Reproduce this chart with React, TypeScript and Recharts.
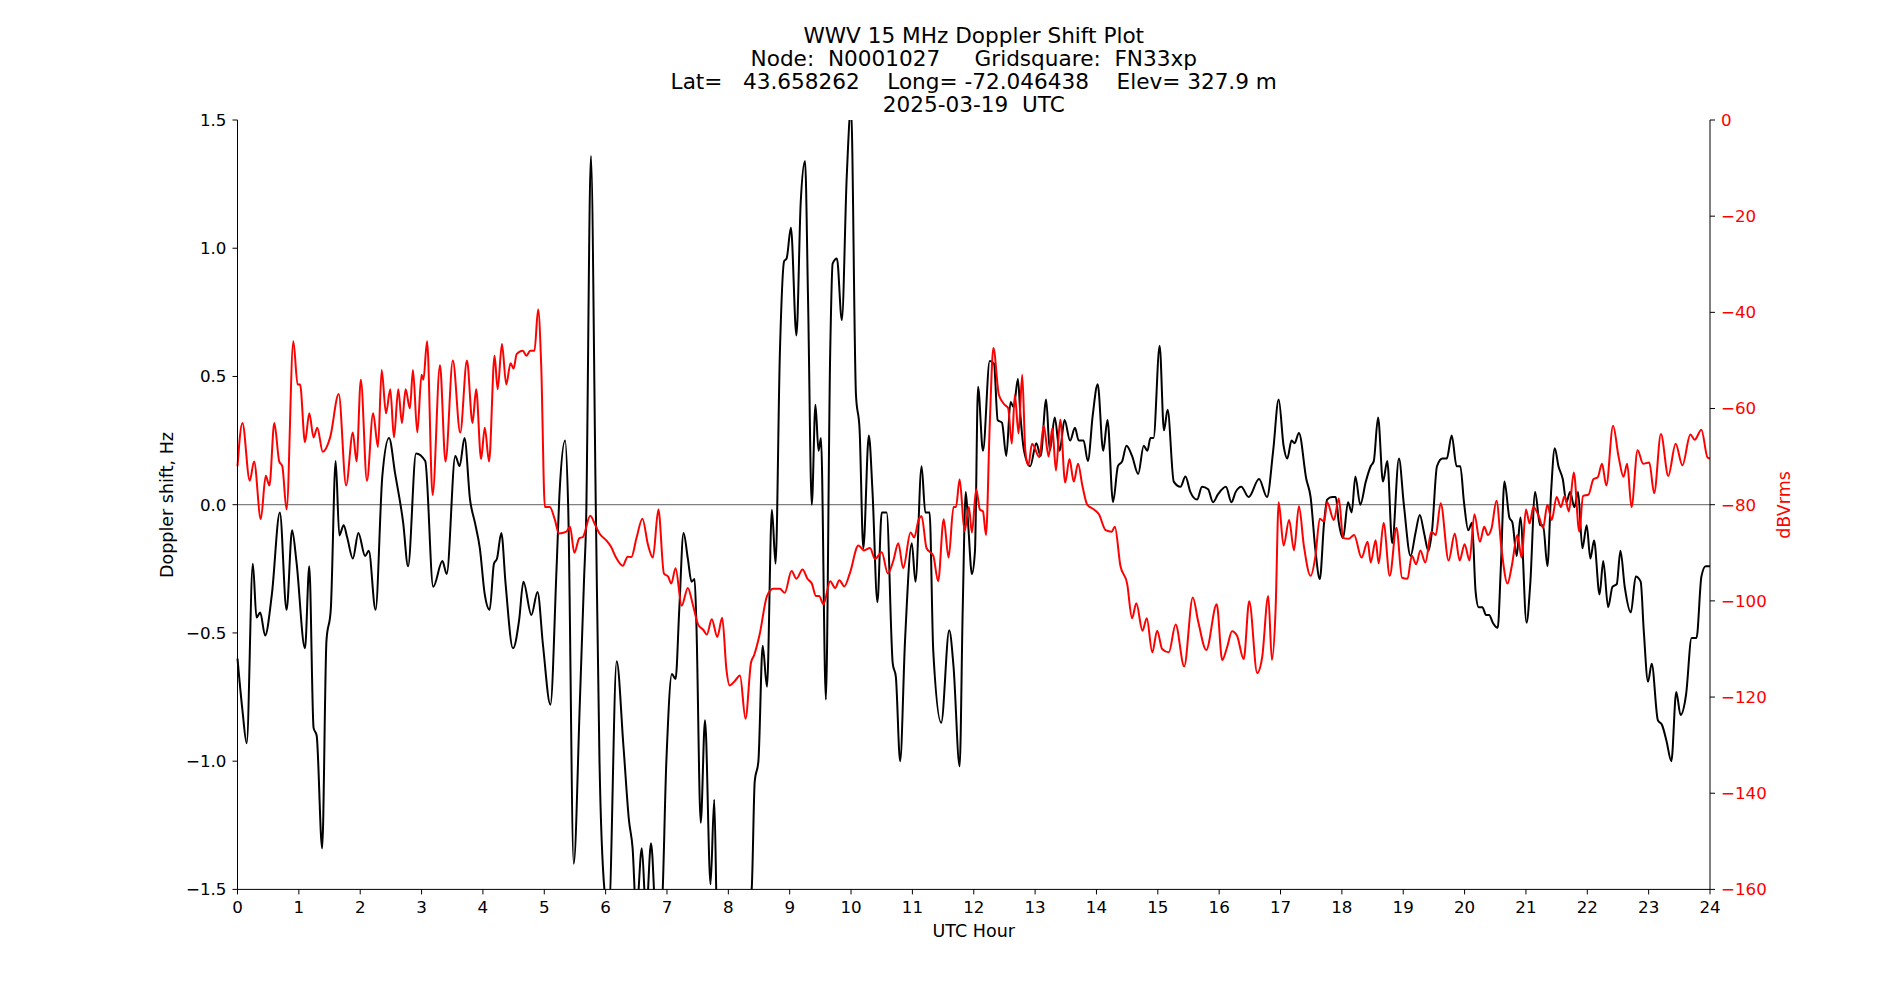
import { LineChart, Line, XAxis, YAxis, ReferenceLine } from 'recharts';

// Doppler shift (Hz), black trace
const dopplerHours = [
  0.0, 0.08, 0.15, 0.25, 0.31, 0.37, 0.45, 0.56, 0.69, 0.8, 0.89, 0.96, 1.1, 1.17, 1.24, 1.29, 1.38, 1.45, 1.52, 1.6,
  1.66, 1.73, 1.79, 1.88, 1.97, 2.08, 2.14, 2.25, 2.36, 2.47, 2.57, 2.7, 2.78, 2.91, 3.06, 3.19, 3.34, 3.41, 3.55, 3.62,
  3.7, 3.79, 3.87, 3.95, 4.03, 4.11, 4.18, 4.23, 4.3, 4.37, 4.49, 4.59, 4.66, 4.79, 4.89, 4.98, 5.1, 5.2, 5.25, 5.34,
  5.39, 5.48, 5.58, 5.65, 5.68, 5.76, 5.84, 5.9, 5.98, 6.05, 6.18, 6.29, 6.38, 6.44, 6.5, 6.59, 6.66, 6.74, 6.83, 6.91,
  6.99, 7.08, 7.14, 7.2, 7.27, 7.34, 7.4, 7.45, 7.48, 7.55, 7.62, 7.71, 7.77, 7.82, 7.95, 8.2, 8.38, 8.43, 8.49, 8.56,
  8.63, 8.71, 8.77, 8.84, 8.91, 8.95, 9.02, 9.11, 9.18, 9.25, 9.3, 9.36, 9.42, 9.47, 9.51, 9.59, 9.66, 9.7, 9.77, 9.85,
  9.93, 10.0, 10.08, 10.14, 10.2, 10.29, 10.35, 10.43, 10.5, 10.58, 10.68, 10.73, 10.8, 10.88, 10.99, 11.05, 11.15, 11.21, 11.28, 11.34,
  11.47, 11.6, 11.67, 11.77, 11.82, 11.87, 11.91, 11.97, 12.02, 12.07, 12.15, 12.26, 12.33, 12.39, 12.46, 12.53, 12.6, 12.65, 12.72, 12.76,
  12.82, 12.92, 13.02, 13.09, 13.18, 13.24, 13.32, 13.4, 13.48, 13.57, 13.65, 13.71, 13.79, 13.86, 13.94, 14.02, 14.11, 14.18, 14.27, 14.35,
  14.42, 14.49, 14.58, 14.68, 14.77, 14.83, 14.88, 14.93, 15.03, 15.1, 15.16, 15.26, 15.37, 15.45, 15.53, 15.64, 15.72, 15.82, 15.9, 15.98,
  16.11, 16.2, 16.27, 16.36, 16.48, 16.65, 16.78, 16.88, 16.97, 17.05, 17.11, 17.18, 17.23, 17.3, 17.42, 17.49, 17.57, 17.64, 17.71, 17.76,
  17.84, 17.9, 17.95, 18.02, 18.1, 18.16, 18.22, 18.3, 18.39, 18.47, 18.52, 18.59, 18.67, 18.74, 18.82, 18.93, 19.01, 19.12, 19.2, 19.27,
  19.34, 19.41, 19.47, 19.55, 19.64, 19.71, 19.79, 19.87, 19.93, 19.99, 20.06, 20.12, 20.18, 20.23, 20.29, 20.35, 20.4, 20.46, 20.54, 20.59,
  20.65, 20.73, 20.78, 20.85, 20.91, 21.01, 21.07, 21.15, 21.23, 21.28, 21.35, 21.41, 21.47, 21.53, 21.6, 21.66, 21.72, 21.79, 21.85, 21.92,
  21.99, 22.05, 22.11, 22.2, 22.26, 22.34, 22.41, 22.48, 22.54, 22.61, 22.71, 22.79, 22.87, 22.92, 22.99, 23.05, 23.15, 23.22, 23.29, 23.37,
  23.45, 23.52, 23.61, 23.7, 23.78, 23.86, 23.93, 24.0,
];
const dopplerHz = [
  -0.6, -0.8, -0.93, -0.23, -0.44, -0.42, -0.51, -0.35, -0.03, -0.41, -0.1, -0.22, -0.56, -0.24, -0.87, -0.9, -1.34, -0.53, -0.41, 0.17,
  -0.12, -0.08, -0.13, -0.21, -0.11, -0.2, -0.18, -0.41, 0.11, 0.26, 0.12, -0.07, -0.24, 0.2, 0.17, -0.32, -0.22, -0.27, 0.19, 0.15,
  0.26, 0.02, -0.07, -0.17, -0.35, -0.41, -0.23, -0.21, -0.11, -0.31, -0.56, -0.45, -0.3, -0.43, -0.34, -0.55, -0.78, -0.25, 0.05, 0.25,
  -0.01, -1.4, -0.77, -0.28, -0.09, 1.36, -0.01, -1.0, -1.5, -1.6, -0.61, -0.94, -1.23, -1.34, -1.6, -1.34, -1.6, -1.32, -1.65, -1.6,
  -1.0, -0.66, -0.68, -0.41, -0.11, -0.21, -0.3, -0.29, -0.47, -1.24, -0.84, -1.48, -1.15, -1.65, -1.7, -1.7, -1.5, -1.08, -1.0, -0.55,
  -0.71, -0.02, -0.23, 0.59, 0.95, 0.96, 1.08, 0.66, 1.18, 1.34, 0.79, 0.0, 0.39, 0.21, 0.26, -0.76, 0.59, 0.94, 0.96, 0.72,
  1.28, 1.55, 0.43, 0.29, -0.17, 0.27, 0.05, -0.38, -0.03, -0.03, -0.62, -0.67, -1.0, -0.53, -0.15, -0.3, 0.15, -0.03, -0.03, -0.57,
  -0.85, -0.49, -0.63, -1.02, -0.41, 0.05, -0.08, -0.27, -0.18, 0.46, 0.21, 0.56, 0.55, 0.33, 0.32, 0.19, 0.4, 0.38, 0.49, 0.35,
  0.21, 0.15, 0.24, 0.19, 0.41, 0.21, 0.34, 0.21, 0.33, 0.25, 0.3, 0.25, 0.25, 0.17, 0.35, 0.47, 0.21, 0.33, 0.01, 0.15,
  0.17, 0.23, 0.19, 0.12, 0.23, 0.21, 0.26, 0.26, 0.62, 0.29, 0.37, 0.09, 0.07, 0.11, 0.05, 0.02, 0.07, 0.06, 0.01, 0.04,
  0.07, 0.01, 0.05, 0.07, 0.03, 0.1, 0.03, 0.21, 0.41, 0.23, 0.18, 0.25, 0.24, 0.28, 0.1, 0.03, -0.18, -0.29, -0.07, 0.02,
  0.03, 0.03, -0.07, -0.13, 0.01, -0.03, 0.11, 0.0, 0.09, 0.15, 0.17, 0.34, 0.09, 0.17, -0.15, 0.18, 0.0, -0.2, -0.11, -0.04,
  -0.11, -0.18, -0.1, 0.15, 0.18, 0.18, 0.27, 0.15, 0.15, 0.01, -0.1, -0.07, -0.34, -0.4, -0.4, -0.43, -0.43, -0.46, -0.48, -0.25,
  0.09, -0.05, -0.07, -0.2, -0.05, -0.46, -0.31, 0.05, -0.08, -0.08, -0.24, 0.05, 0.22, 0.15, 0.1, 0.01, 0.05, -0.01, 0.05, -0.17,
  -0.08, -0.21, -0.14, -0.35, -0.22, -0.4, -0.32, -0.31, -0.18, -0.32, -0.42, -0.28, -0.3, -0.49, -0.69, -0.62, -0.84, -0.86, -0.92, -1.0,
  -0.73, -0.82, -0.74, -0.52, -0.52, -0.28, -0.24, -0.24,
];

// Signal level (dBVrms), red trace
const powerHours = [
  0.0, 0.08, 0.2, 0.27, 0.38, 0.46, 0.52, 0.6, 0.68, 0.73, 0.8, 0.91, 0.98, 1.02, 1.1, 1.17, 1.24, 1.3, 1.39, 1.51,
  1.65, 1.77, 1.88, 1.94, 2.01, 2.11, 2.21, 2.29, 2.35, 2.42, 2.49, 2.55, 2.62, 2.68, 2.74, 2.81, 2.86, 2.93, 3.0, 3.03,
  3.09, 3.18, 3.3, 3.39, 3.51, 3.63, 3.74, 3.83, 3.89, 3.97, 4.03, 4.1, 4.19, 4.24, 4.31, 4.38, 4.45, 4.5, 4.55, 4.65,
  4.71, 4.77, 4.84, 4.9, 4.95, 5.01, 5.09, 5.17, 5.24, 5.36, 5.42, 5.49, 5.57, 5.63, 5.75, 5.83, 5.9, 6.01, 6.09, 6.17,
  6.28, 6.36, 6.42, 6.5, 6.6, 6.69, 6.77, 6.86, 6.95, 7.02, 7.07, 7.14, 7.24, 7.34, 7.42, 7.51, 7.59, 7.65, 7.73, 7.82,
  7.9, 7.97, 8.02, 8.11, 8.19, 8.28, 8.37, 8.42, 8.51, 8.63, 8.73, 8.84, 8.92, 9.03, 9.11, 9.21, 9.29, 9.36, 9.43, 9.48,
  9.55, 9.66, 9.74, 9.81, 9.89, 9.98, 10.12, 10.21, 10.31, 10.39, 10.5, 10.6, 10.69, 10.77, 10.85, 10.97, 11.03, 11.1, 11.15, 11.23,
  11.34, 11.42, 11.51, 11.59, 11.67, 11.71, 11.77, 11.85, 11.92, 11.97, 12.04, 12.1, 12.15, 12.2, 12.26, 12.32, 12.41, 12.51, 12.56, 12.62,
  12.67, 12.73, 12.79, 12.84, 12.89, 12.95, 13.07, 13.14, 13.22, 13.28, 13.34, 13.41, 13.49, 13.56, 13.63, 13.7, 13.77, 13.85, 13.96, 14.04,
  14.15, 14.25, 14.3, 14.39, 14.5, 14.58, 14.65, 14.75, 14.82, 14.91, 14.99, 15.07, 15.18, 15.29, 15.43, 15.57, 15.66, 15.79, 15.96, 16.05,
  16.13, 16.21, 16.29, 16.4, 16.49, 16.62, 16.7, 16.8, 16.86, 16.92, 16.97, 17.05, 17.14, 17.22, 17.3, 17.38, 17.49, 17.57, 17.64, 17.71,
  17.76, 17.87, 17.95, 18.02, 18.11, 18.2, 18.32, 18.42, 18.47, 18.55, 18.6, 18.68, 18.78, 18.89, 18.98, 19.07, 19.14, 19.21, 19.28, 19.36,
  19.46, 19.53, 19.61, 19.74, 19.84, 19.92, 20.0, 20.08, 20.16, 20.25, 20.32, 20.38, 20.44, 20.52, 20.6, 20.7, 20.77, 20.86, 20.93, 21.0,
  21.06, 21.12, 21.21, 21.28, 21.35, 21.42, 21.5, 21.57, 21.63, 21.7, 21.78, 21.87, 21.93, 22.02, 22.1, 22.17, 22.24, 22.31, 22.42, 22.51,
  22.59, 22.65, 22.72, 22.82, 22.91, 23.01, 23.09, 23.2, 23.32, 23.44, 23.55, 23.68, 23.75, 23.86, 23.96, 24.0,
];
const powerDb = [
  -72, -63, -75, -71, -83, -74, -76, -63, -71, -72, -81, -46, -55, -55, -67, -61, -66, -64, -69, -66,
  -57, -76, -65, -71, -54, -75, -61, -68, -52, -61, -56, -66, -56, -63, -56, -60, -52, -65, -53, -54,
  -46, -78, -51, -71, -50, -65, -50, -63, -56, -70.5, -64, -71, -49, -56, -46.6, -55, -50.6, -51.7, -48.7, -48,
  -49, -48, -48, -39.4, -51, -80.5, -80.5, -83, -86, -85.6, -84.6, -90, -87, -86.7, -82.3, -84.2, -86, -87.4, -88.8, -91,
  -92.7, -90.8, -90.9, -87.1, -82.9, -88.3, -91, -81, -94.3, -95, -96.4, -93.2, -101, -97.3, -100.7, -105, -106, -107, -103.8, -107.5,
  -103.5, -114.4, -117.6, -116.6, -115.5, -124.5, -112.8, -111.3, -107, -99, -97.5, -97.5, -98.3, -93.8, -95.4, -93.5, -95.4, -96.4, -99, -99,
  -100.7, -95.9, -97.3, -95.7, -97, -94.3, -88.5, -89.5, -89, -91.3, -89.9, -94.3, -91.6, -88, -93.2, -85.8, -86.8, -83.2, -82.4, -89,
  -90.6, -95.9, -83, -91, -80.5, -80.5, -74.7, -85.5, -80.5, -85.8, -76.8, -81, -81.4, -86.3, -63.6, -47.4, -57.2, -59.3, -59.9, -67.3,
  -57.2, -65.2, -53, -68.7, -71.8, -67.3, -70.1, -63.6, -70, -64.1, -72.9, -62.3, -75.4, -70.5, -75.2, -71.5, -76, -80, -81, -82,
  -85.3, -85.6, -84.6, -92.7, -96.4, -103.6, -100.5, -106.2, -103.6, -110.7, -106.2, -110, -110.7, -104.9, -113.6, -99.3, -104.4, -110.2, -100.7, -112.3,
  -109.6, -106.3, -107.2, -112.1, -100.1, -115, -111.8, -99, -112.3, -101.7, -79.5, -88.5, -83.2, -89.5, -80.3, -88.5, -94.8, -90.6, -82.9, -83.5,
  -79.5, -83.2, -78.7, -86.9, -87.1, -86.3, -91, -87.7, -92, -87.4, -92.2, -83.8, -94.8, -84.8, -95.2, -95.4, -90.6, -92.4, -89.5, -92,
  -85.6, -86.3, -79.7, -91.6, -86, -91.6, -88.2, -91.6, -82, -87.7, -84.6, -86.3, -84.9, -79.2, -89, -96.4, -92.7, -86.3, -91, -81,
  -83.9, -80.5, -82.4, -84.8, -80, -83.2, -78.4, -80.5, -78.2, -81.4, -73.3, -85.6, -78.2, -77.9, -74.7, -74.3, -71.5, -76, -63.6, -70,
  -74.2, -71.5, -80.5, -68.7, -71.5, -71.2, -77.6, -65.3, -74, -67.3, -71.8, -65.4, -66.5, -64.4, -70.2, -70.4,
];

const hourTicks = Array.from({ length: 25 }, (_, i) => i);
const hzTicks = [-1.5, -1.0, -0.5, 0.0, 0.5, 1.0, 1.5];
const dbTicks = [-160, -140, -120, -100, -80, -60, -40, -20, 0];

const titleLines = [
  'WWV 15 MHz Doppler Shift Plot',
  'Node:  N0001027     Gridsquare:  FN33xp',
  'Lat=   43.658262    Long= -72.046438    Elev= 327.9 m',
  '2025-03-19  UTC',
];

const dopplerData = dopplerHours.map((h, i) => ({ h, v: dopplerHz[i] }));
const powerData = powerHours.map((h, i) => ({ h, v: powerDb[i] }));

const FONT = '"DejaVu Sans", sans-serif';
const minus = (s: string) => s.replace('-', '\u2212');
const tickStyle = { fontSize: 16.7, fill: '#000', fontFamily: FONT };

export default function App() {
  return (
    <div style={{ position: 'absolute', left: 0, top: 0, width: 1900, height: 1000, background: '#fff', fontFamily: FONT }}>
      <div
        style={{
          position: 'absolute',
          left: 0,
          width: 1947.5,
          top: 23.5,
          textAlign: 'center',
          fontSize: 21.6,
          lineHeight: '23px',
          whiteSpace: 'pre',
          color: '#000',
        }}
      >
        {titleLines.map((t) => (
          <div key={t}>{t}</div>
        ))}
      </div>
      <LineChart
        width={1900}
        height={1000}
        margin={{ top: 120, right: 110, bottom: 70.6, left: 157.5 }}
      >
        <XAxis
          xAxisId="bottom"
          dataKey="h"
          type="number"
          domain={[0, 24]}
          ticks={hourTicks}
          interval={0}
          height={40}
          tickSize={5}
          tickMargin={7}
          tick={tickStyle}
          stroke="#000"
          allowDuplicatedCategory={false}
        />
        <XAxis
          xAxisId="top"
          orientation="top"
          dataKey="h"
          type="number"
          domain={[0, 24]}
          tick={false}
          tickLine={false}
          height={0}
          stroke="#000"
        />
        <YAxis
          yAxisId="hz"
          domain={[-1.5, 1.5]}
          ticks={hzTicks}
          allowDataOverflow
          width={80}
          tickSize={5}
          tickMargin={6}
          tick={tickStyle}
          tickFormatter={(v: number) => minus(v.toFixed(1))}
          stroke="#000"
        />
        <YAxis
          yAxisId="db"
          orientation="right"
          domain={[-160, 0]}
          ticks={dbTicks}
          allowDataOverflow
          width={80}
          tickSize={5}
          tickMargin={6}
          tick={{ ...tickStyle, fill: '#ff0000' }}
          tickLine={{ stroke: '#000' }}
          tickFormatter={(v: number) => minus(String(v))}
          stroke="#000"
        />
        <ReferenceLine yAxisId="hz" xAxisId="bottom" y={0} stroke="#808080" strokeWidth={1.2} />
        <Line
          data={dopplerData}
          xAxisId="bottom"
          yAxisId="hz"
          dataKey="v"
          type="monotone"
          stroke="#000"
          strokeWidth={2}
          dot={false}
          isAnimationActive={false}
        />
        <Line
          data={powerData}
          xAxisId="bottom"
          yAxisId="db"
          dataKey="v"
          type="monotone"
          stroke="#ff0000"
          strokeWidth={2}
          dot={false}
          isAnimationActive={false}
        />
      </LineChart>
      <div
        style={{
          position: 'absolute',
          left: 167,
          top: 505,
          transform: 'translate(-50%, -50%) rotate(-90deg)',
          fontSize: 17.5,
          whiteSpace: 'nowrap',
          color: '#000',
        }}
      >
        Doppler shift, Hz
      </div>
      <div
        style={{
          position: 'absolute',
          left: 1784,
          top: 505,
          transform: 'translate(-50%, -50%) rotate(-90deg)',
          fontSize: 17.5,
          whiteSpace: 'nowrap',
          color: '#ff0000',
        }}
      >
        dBVrms
      </div>
      <div
        style={{
          position: 'absolute',
          left: 973.75,
          top: 931,
          transform: 'translate(-50%, -50%)',
          fontSize: 17.5,
          whiteSpace: 'nowrap',
          color: '#000',
        }}
      >
        UTC Hour
      </div>
    </div>
  );
}
